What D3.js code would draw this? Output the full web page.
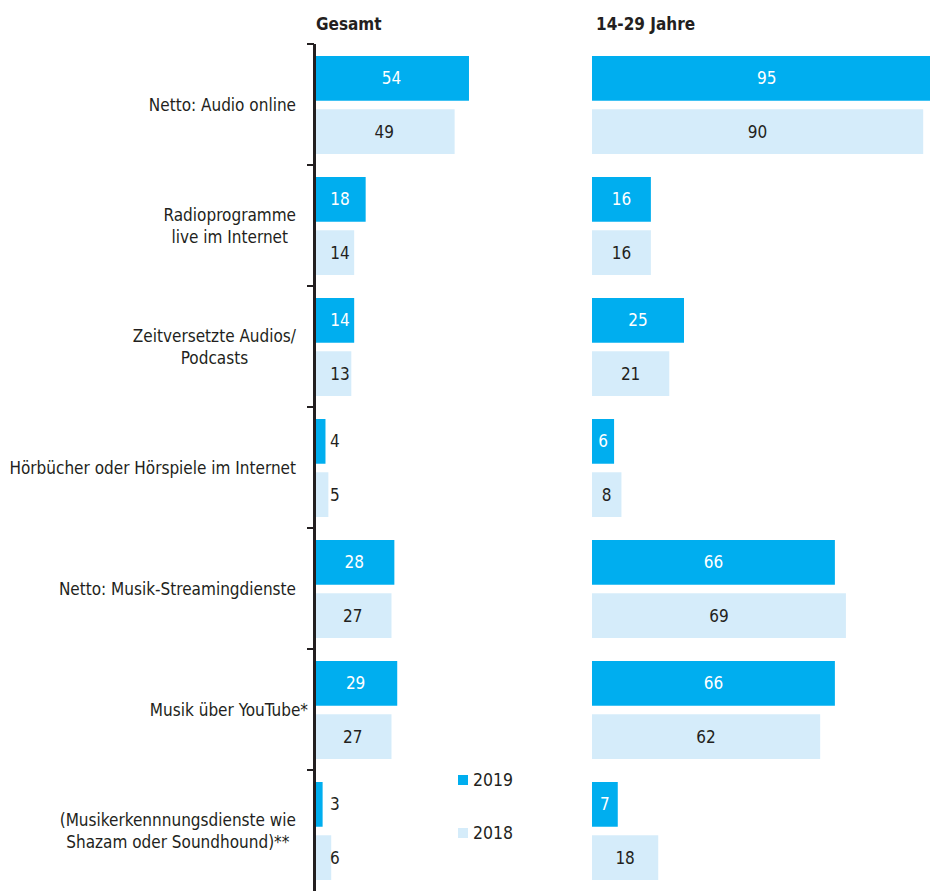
<!DOCTYPE html>
<html>
<head>
<meta charset="utf-8">
<script src="https://cdn.jsdelivr.net/npm/d3@7/dist/d3.min.js"></script>
<style>
  html, body { margin: 0; padding: 0; background: #fff; }
  svg { display: block; }
  text { font-family: "DejaVu Sans Condensed", "Liberation Sans Narrow", sans-serif; fill: #231f20; }
</style>
</head>
<body>
<svg id="chart" width="930" height="891"></svg>
<script>
// ---- data ----
const categories = [
  "Netto: Audio online",
  "Radioprogramme\nlive im Internet",
  "Zeitversetzte Audios/\nPodcasts",
  "Hörbücher oder Hörspiele im Internet",
  "Netto: Musik-Streamingdienste",
  "Musik über YouTube*",
  "(Musikerkennnungsdienste wie\nShazam oder Soundhound)**"
];
const years = ["2019", "2018"];
const gesamt2019 = [54, 18, 14, 4, 28, 29, 3];
const gesamt2018 = [49, 14, 13, 5, 27, 27, 6];
const jung2019 = [95, 16, 25, 6, 66, 66, 7];
const jung2018 = [90, 16, 21, 8, 69, 62, 18];
const panelTitles = ["Gesamt", "14-29 Jahre"];

// ---- layout ----
const colors = { "2019": "#00aeef", "2018": "#d5ecfa" };
const textDark = "#231f20";
const svg = d3.select("#chart");

const y = d3.scaleBand().domain(categories).range([44, 891]).padding(0);
const ySub = d3.scaleBand().domain(years).range([12, 110]).paddingInner(0.16);

const panels = [
  { title: panelTitles[0], v2019: gesamt2019, v2018: gesamt2018,
    x: d3.scaleLinear().domain([0, 100]).range([314, 314 + 287]), titleX: 316, smallOutside: true },
  { title: panelTitles[1], v2019: jung2019, v2018: jung2018,
    x: d3.scaleLinear().domain([0, 100]).range([592, 592 + 368]), titleX: 596, smallOutside: false }
];

panels.forEach(p => {
  svg.append("text")
    .attr("x", p.titleX).attr("y", 30)
    .attr("font-size", 17).attr("font-weight", "bold")
    .text(p.title);

  const rows = categories.map((c, i) => ({ c, vals: [
    { year: "2019", v: p.v2019[i] }, { year: "2018", v: p.v2018[i] }
  ]}));

  const g = svg.append("g");
  const grp = g.selectAll("g.cat").data(rows).join("g")
    .attr("transform", d => `translate(0,${y(d.c)})`);

  grp.selectAll("rect").data(d => d.vals).join("rect")
    .attr("x", p.x(0))
    .attr("y", d => ySub(d.year))
    .attr("width", d => p.x(d.v) - p.x(0))
    .attr("height", ySub.bandwidth())
    .attr("fill", d => colors[d.year]);

  grp.selectAll("text.val").data(d => d.vals).join("text")
    .attr("class", "val")
    .attr("font-size", 17)
    .attr("dominant-baseline", "central")
    .attr("y", d => ySub(d.year) + ySub.bandwidth() / 2)
    .each(function(d) {
      const w = p.x(d.v) - p.x(0);
      const t = d3.select(this);
      if (p.smallOutside && w < 25) {
        t.attr("x", 330).attr("text-anchor", "start").style("fill", textDark);
      } else {
        let cx = p.x(0) + w / 2;
        if (p.smallOutside) cx = Math.max(cx, 340);
        t.attr("x", cx).attr("text-anchor", "middle")
          .style("fill", d.year === "2019" ? "#ffffff" : textDark);
      }
    })
    .text(d => d.v);
});

// axis for left panel
const axis = d3.axisLeft(y).tickSize(0).tickFormat("");
const axG = svg.append("g").attr("transform", "translate(314.5,0)").call(axis);
axG.select(".domain").attr("stroke", "#231f20").attr("stroke-width", 3).attr("d", `M0,44V891`);
const boundaries = categories.map(c => y(c));
svg.selectAll("line.tk").data(boundaries).join("line")
  .attr("class", "tk")
  .attr("x1", 307).attr("x2", 314)
  .attr("y1", d => d).attr("y2", d => d)
  .attr("stroke", "#231f20").attr("stroke-width", 2);

// category labels: block right-aligned, lines centered in block
const labelRight = { default: 296, "Musik über YouTube*": 308 };
const lineH = 22;
categories.forEach(c => {
  const lines = c.split("\n");
  const cy = y(c) + y.bandwidth() / 2;
  const t = svg.append("text")
    .attr("font-size", 17)
    .attr("text-anchor", "middle");
  lines.forEach((ln, i) => {
    t.append("tspan")
      .attr("dominant-baseline", "central")
      .attr("y", cy + (i - (lines.length - 1) / 2) * lineH)
      .text(ln);
  });
  let maxW = 0;
  t.selectAll("tspan").each(function() { maxW = Math.max(maxW, this.getComputedTextLength()); });
  const right = labelRight[c] !== undefined ? labelRight[c] : labelRight.default;
  t.selectAll("tspan").attr("x", right - maxW / 2);
});

// legend
const leg = svg.append("g");
years.forEach((yr, i) => {
  const yy = 780 + i * 53;
  leg.append("rect").attr("x", 458).attr("y", yy - 5).attr("width", 10).attr("height", 10)
    .attr("fill", colors[yr]);
  leg.append("text").attr("x", 473).attr("y", yy).attr("dominant-baseline", "central")
    .attr("font-size", 17.5).text(yr);
});
</script>
</body>
</html>
